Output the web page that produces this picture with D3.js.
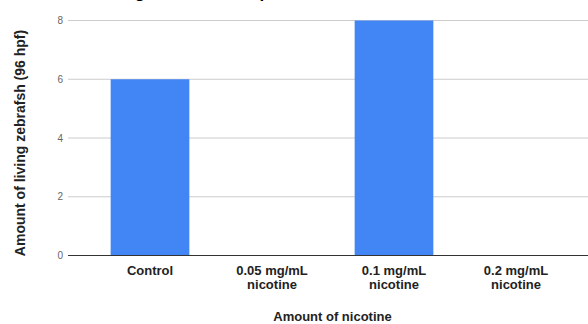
<!DOCTYPE html>
<html><head><meta charset="utf-8">
<script src="https://cdn.jsdelivr.net/npm/d3@7"></script>
<style>html,body{margin:0;padding:0;background:#fff;}svg{display:block;font-family:Arial,"Liberation Sans",sans-serif;}</style>
</head><body>
<script>
const categories = [["Control"], ["0.05 mg/mL", "nicotine"], ["0.1 mg/mL", "nicotine"], ["0.2 mg/mL", "nicotine"]];
const values = [6, 0, 8, 0];
const yTicks = [0, 2, 4, 6, 8];
const title = "Amount of living zebrafsh compared to amount of nicotine";
const yTitle = "Amount of living zebrafsh (96 hpf)";
const xTitle = "Amount of nicotine";

const W = 588, H = 324;
const svg = d3.select("body").append("svg").attr("width", W).attr("height", H);

const x = d3.scaleBand().domain(d3.range(categories.length)).range([89, 577]).padding(0);
const y = d3.scaleLinear().domain([0, 8]).range([255.5, 20.5]);

// gridlines
svg.append("g").selectAll("line").data(yTicks.filter(d => d !== 0)).join("line")
  .attr("x1", 68).attr("x2", W).attr("y1", d => y(d)).attr("y2", d => y(d))
  .attr("stroke", "#cccccc").attr("stroke-width", 1);

// bars
const bw = x.bandwidth() * 0.645;
svg.append("g").selectAll("rect").data(values).join("rect")
  .attr("x", (d, i) => x(i) + x.bandwidth() / 2 - bw / 2)
  .attr("width", bw)
  .attr("y", d => y(d))
  .attr("height", d => y(0) - y(d))
  .attr("fill", "#4285f4");

// baseline
svg.append("line").attr("x1", 68).attr("x2", W).attr("y1", y(0)).attr("y2", y(0))
  .attr("stroke", "#333333").attr("stroke-width", 1);

// y tick labels
svg.append("g").selectAll("text").data(yTicks).join("text")
  .attr("x", 63).attr("y", d => y(d) + 3.5)
  .attr("text-anchor", "end").attr("font-size", 10).attr("fill", "#666")
  .text(d => d);

// category labels
const cl = svg.append("g").selectAll("text").data(categories).join("text")
  .attr("text-anchor", "middle").attr("font-size", 13).attr("font-weight", "bold").attr("fill", "#222");
cl.each(function(lines, i) {
  d3.select(this).selectAll("tspan").data(lines).join("tspan")
    .attr("x", x(i) + x.bandwidth() / 2)
    .attr("y", (d, j) => 274.5 + j * 14)
    .text(d => d);
});

// x title
svg.append("text").attr("x", 332.5).attr("y", 321).attr("text-anchor", "middle")
  .attr("font-size", 13).attr("font-weight", "bold").attr("fill", "#222").text(xTitle);

// y title
svg.append("text").attr("transform", "translate(25,143) rotate(-90)").attr("text-anchor", "middle")
  .attr("font-size", 14).attr("font-weight", "bold").attr("fill", "#222").text(yTitle);

// chart title (cut off at top, as in the reference)
svg.append("text").attr("x", 11).attr("y", -2.5).attr("text-anchor", "start")
  .attr("font-size", 17).attr("font-weight", "bold").attr("fill", "#000").text(title);
</script>
</body></html>
